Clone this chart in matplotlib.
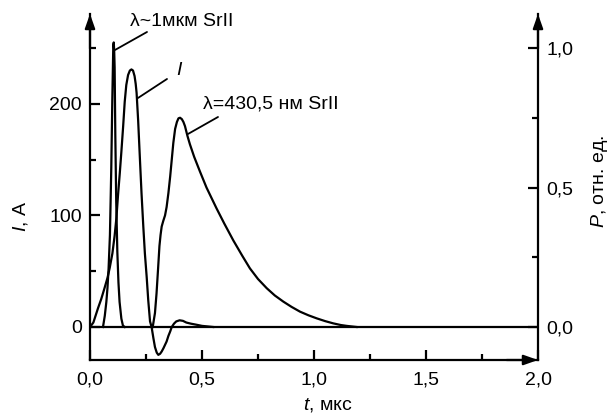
import matplotlib
matplotlib.use("Agg")
import matplotlib.pyplot as plt
from matplotlib.ticker import FixedLocator

plt.rcParams['font.family'] = ['Liberation Sans', 'DejaVu Sans']
plt.rcParams['mathtext.fontset'] = 'custom'
plt.rcParams['mathtext.rm'] = 'Liberation Sans'
plt.rcParams['mathtext.it'] = 'Liberation Sans:italic'
plt.rcParams['mathtext.bf'] = 'Liberation Sans:bold'

# ---------------- data ----------------
# current I, A (left axis)
t_current = [0.000, 0.015, 0.036, 0.050, 0.065, 0.078, 0.088, 0.100, 0.110, 0.118,
             0.125, 0.133, 0.140, 0.148, 0.155, 0.162, 0.170, 0.178, 0.185, 0.192,
             0.199, 0.204, 0.208, 0.215, 0.223, 0.230, 0.238, 0.245, 0.253, 0.260,
             0.268, 0.275, 0.283, 0.290, 0.298, 0.305, 0.313, 0.320, 0.328, 0.335,
             0.342, 0.350, 0.358, 0.365, 0.375, 0.385, 0.400, 0.415, 0.430, 0.450,
             0.476, 0.500, 0.525, 0.550]
I_current = [0, 4, 17, 25, 35, 44, 53, 66, 82, 98,
             118, 138, 157, 180, 202, 217, 226, 230, 231, 230,
             225, 218, 210, 185, 150, 120, 90, 66, 45, 24,
             5, 0, -10, -18, -23, -25, -24, -22, -19, -16,
             -13, -8, -4, 0, 3, 5, 6, 5.5, 4, 3,
             2, 1, 0.5, 0]

# lambda ~ 1 mkm SrII, P rel. units (right axis)
t_1mkm = [0.058, 0.066, 0.073, 0.078, 0.083, 0.089, 0.095, 0.0995, 0.104, 0.106,
          0.108, 0.110, 0.113, 0.117, 0.122, 0.127, 0.132, 0.140, 0.147, 0.155]
P_1mkm = [0.0, 0.04, 0.09, 0.14, 0.21, 0.33, 0.57, 0.81, 1.01, 1.02,
          0.99, 0.93, 0.69, 0.45, 0.27, 0.16, 0.09, 0.03, 0.005, 0.0]

# lambda = 430,5 nm SrII, P rel. units (right axis)
t_430 = [0.280, 0.290, 0.297, 0.304, 0.310, 0.315, 0.320, 0.327, 0.335, 0.342,
         0.350, 0.358, 0.365, 0.372, 0.380, 0.388, 0.395, 0.402, 0.410, 0.417,
         0.424, 0.435, 0.446, 0.465, 0.491, 0.520, 0.550, 0.565, 0.600, 0.640,
         0.680, 0.714, 0.750, 0.789, 0.825, 0.863, 0.900, 0.9375, 0.975, 1.012,
         1.050, 1.086, 1.120, 1.146, 1.190]
P_430 = [0.0, 0.05, 0.12, 0.21, 0.29, 0.33, 0.36, 0.38, 0.40, 0.43,
         0.48, 0.54, 0.60, 0.66, 0.71, 0.735, 0.748, 0.75, 0.745, 0.735,
         0.72, 0.685, 0.655, 0.61, 0.557, 0.50, 0.45, 0.425, 0.37, 0.31,
         0.255, 0.21, 0.172, 0.139, 0.113, 0.091, 0.072, 0.055, 0.042, 0.031,
         0.021, 0.013, 0.007, 0.004, 0.0]

x_ticks = [0.0, 0.5, 1.0, 1.5, 2.0]
x_tick_labels = ['0,0', '0,5', '1,0', '1,5', '2,0']
x_minor = [0.25, 0.75, 1.25, 1.75]
I_ticks = [0, 100, 200]
I_tick_labels = ['0', '100', '200']
I_minor = [50, 150, 250]
P_ticks = [0.0, 0.5, 1.0]
P_tick_labels = ['0,0', '0,5', '1,0']
P_minor = [0.25, 0.75]

label_1mkm = 'λ~1мкм SrII'
label_I = 'I'
label_430 = 'λ=430,5 нм SrII'

# ---------------- figure ----------------
W, H = 609, 416
fig = plt.figure(figsize=(W / 100, H / 100), dpi=100)
left_px, right_px, bottom_px, top_px = 90, 538, 360, 14
ax = fig.add_axes([left_px / W, 1 - bottom_px / H,
                   (right_px - left_px) / W, (bottom_px - top_px) / H])
ax2 = ax.twinx()

FS = 14
LW = 1.6

ax.set_xlim(0, 2.0)
ax.set_ylim(-29.6, 280.7)
ax2.set_ylim(-29.6 / 250.2, 280.7 / 250.2)

for a in (ax, ax2):
    a.spines['top'].set_visible(False)
    for s in a.spines.values():
        s.set_linewidth(LW)
    a.patch.set_visible(False)

ax.spines['right'].set_visible(False)
ax2.spines['left'].set_visible(False)
ax2.spines['bottom'].set_visible(False)

ax.xaxis.set_major_locator(FixedLocator(x_ticks))
ax.set_xticklabels(x_tick_labels)
ax.xaxis.set_minor_locator(FixedLocator(x_minor))
ax.yaxis.set_major_locator(FixedLocator(I_ticks))
ax.set_yticklabels(I_tick_labels)
ax.yaxis.set_minor_locator(FixedLocator(I_minor))
ax2.yaxis.set_major_locator(FixedLocator(P_ticks))
ax2.set_yticklabels(P_tick_labels)
ax2.yaxis.set_minor_locator(FixedLocator(P_minor))

ax.tick_params(which='major', direction='in', length=7, width=LW, labelsize=FS,
               top=False, right=False, pad=6)
ax.tick_params(which='minor', direction='in', length=4, width=LW, top=False, right=False)
ax2.tick_params(which='major', direction='in', length=7, width=LW, labelsize=FS, pad=6)
ax2.tick_params(which='minor', direction='in', length=4, width=LW)
ax.tick_params(axis='x', pad=8)

# zero baseline
ax.axhline(0, color='k', lw=LW, zorder=1)

# curves
ax.plot(t_current, I_current, color='k', lw=LW, solid_joinstyle='round')
ax2.plot(t_1mkm, P_1mkm, color='k', lw=LW, solid_joinstyle='round')
ax2.plot(t_430, P_430, color='k', lw=LW, solid_joinstyle='round')

# arrows at axis ends
arrow_kw = dict(arrowstyle='-|>,head_length=0.85,head_width=0.3', color='k',
                lw=LW, shrinkA=0, shrinkB=0)
ax.annotate('', xy=(0, 1), xytext=(0, 0.9), xycoords='axes fraction',
            arrowprops=arrow_kw, annotation_clip=False)
ax.annotate('', xy=(1, 1), xytext=(1, 0.9), xycoords='axes fraction',
            arrowprops=arrow_kw, annotation_clip=False)
ax.annotate('', xy=(1, 0), xytext=(0.93, 0), xycoords='axes fraction',
            arrowprops=arrow_kw, annotation_clip=False)

# annotations with leader lines
def px2data(px, py):
    return (px - 90) / 224.0, (327 - py) / 1.115

line_kw = dict(arrowstyle='-', color='k', lw=1.3, shrinkA=0, shrinkB=0)
ax.annotate('', xy=px2data(115, 50), xytext=px2data(147, 32), arrowprops=line_kw)
ax.annotate('', xy=px2data(138, 98), xytext=px2data(167, 79), arrowprops=line_kw)
ax.annotate('', xy=px2data(188, 134), xytext=px2data(218, 117), arrowprops=line_kw)

ax.text(*px2data(130, 22), label_1mkm, fontsize=FS, ha='left', va='center')
ax.text(*px2data(179, 71), label_I, fontsize=FS, ha='center', va='center', style='italic')
ax.text(*px2data(203, 104), label_430, fontsize=FS, ha='left', va='center')

# axis titles
fig.text(328 / W, 1 - 405 / H, r'$t$, мкс', fontsize=FS, ha='center', va='center')
fig.text(20 / W, 1 - 216 / H, r'$I$, А', fontsize=FS, ha='center', va='center', rotation=90)
fig.text(600 / W, 1 - 182 / H, r'$P$, отн. ед.', fontsize=FS, ha='center', va='center', rotation=90)

fig.savefig('out.png', dpi=100)
